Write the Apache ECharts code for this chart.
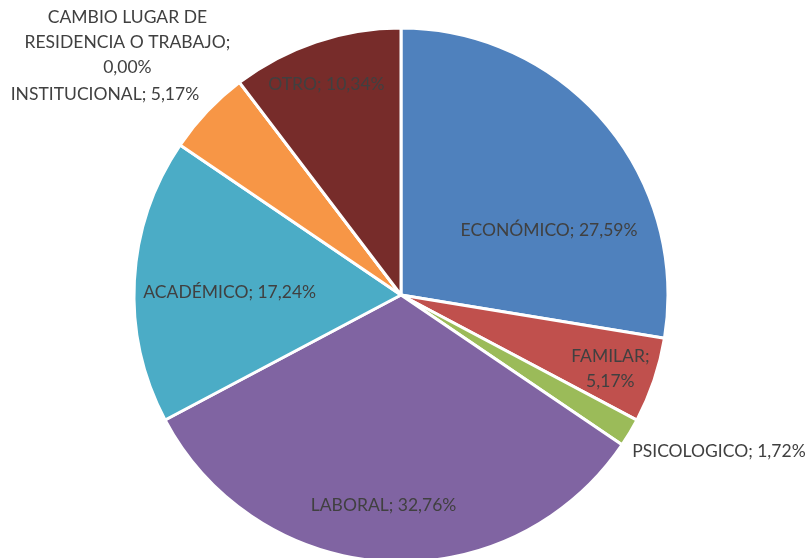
<!DOCTYPE html>
<html><head><meta charset="utf-8">
<script src="https://cdn.jsdelivr.net/npm/echarts@6/dist/echarts.min.js"></script>
<style>html,body{margin:0;padding:0;background:#fff}#c{width:812px;height:558px}</style>
</head><body><div id="c"></div>
<script>
const categories = ['ECONÓMICO','FAMILAR','PSICOLOGICO','LABORAL','ACADÉMICO','INSTITUCIONAL','CAMBIO LUGAR DE RESIDENCIA O TRABAJO','OTRO'];
const values = [27.59, 5.17, 1.72, 32.76, 17.24, 5.17, 0.00, 10.34];
const colors = ['#4F81BD','#C0504D','#9BBB59','#8064A2','#4BACC6','#F79646','#2C4D75','#772C2A'];
// label text layout (display names with line breaks)
const labelNames = ['ECONÓMICO','FAMILAR;\n','PSICOLOGICO','LABORAL','ACADÉMICO','INSTITUCIONAL','CAMBIO LUGAR DE\nRESIDENCIA O TRABAJO;\n','OTRO'];
const labelOffsets = [[44,24],[80,30],[201,86],[-10,74],[-35,5],[-197,-107],[-191,-144],[-31,-81]];

function fmt(v){ return v.toFixed(2).replace('.', ','); }

const data = categories.map((c,i)=>{
  const sep = labelNames[i].endsWith('\n') ? '' : '; ';
  const txt = labelNames[i] + sep + fmt(values[i]) + '%';
  return {
    name: c, value: values[i],
    itemStyle: {color: colors[i]},
    label: {formatter: txt, offset: labelOffsets[i]}
  };
});

const chart = echarts.init(document.getElementById('c'));
chart.setOption({
  animation: false,
  series: [{
    type: 'pie',
    center: [401, 295],
    radius: 267,
    startAngle: 90,
    clockwise: true,
    avoidLabelOverlap: false,
    stillShowZeroSum: true,
    itemStyle: {borderColor: '#fff', borderWidth: 3},
    label: {
      show: true, position: 'inside',
      color: '#404040', fontFamily: 'Lato', fontSize: 17.5, lineHeight: 25, align: 'center'
    },
    labelLine: {show: false},
    emphasis: {disabled: true},
    data: data
  }]
});
</script></body></html>
